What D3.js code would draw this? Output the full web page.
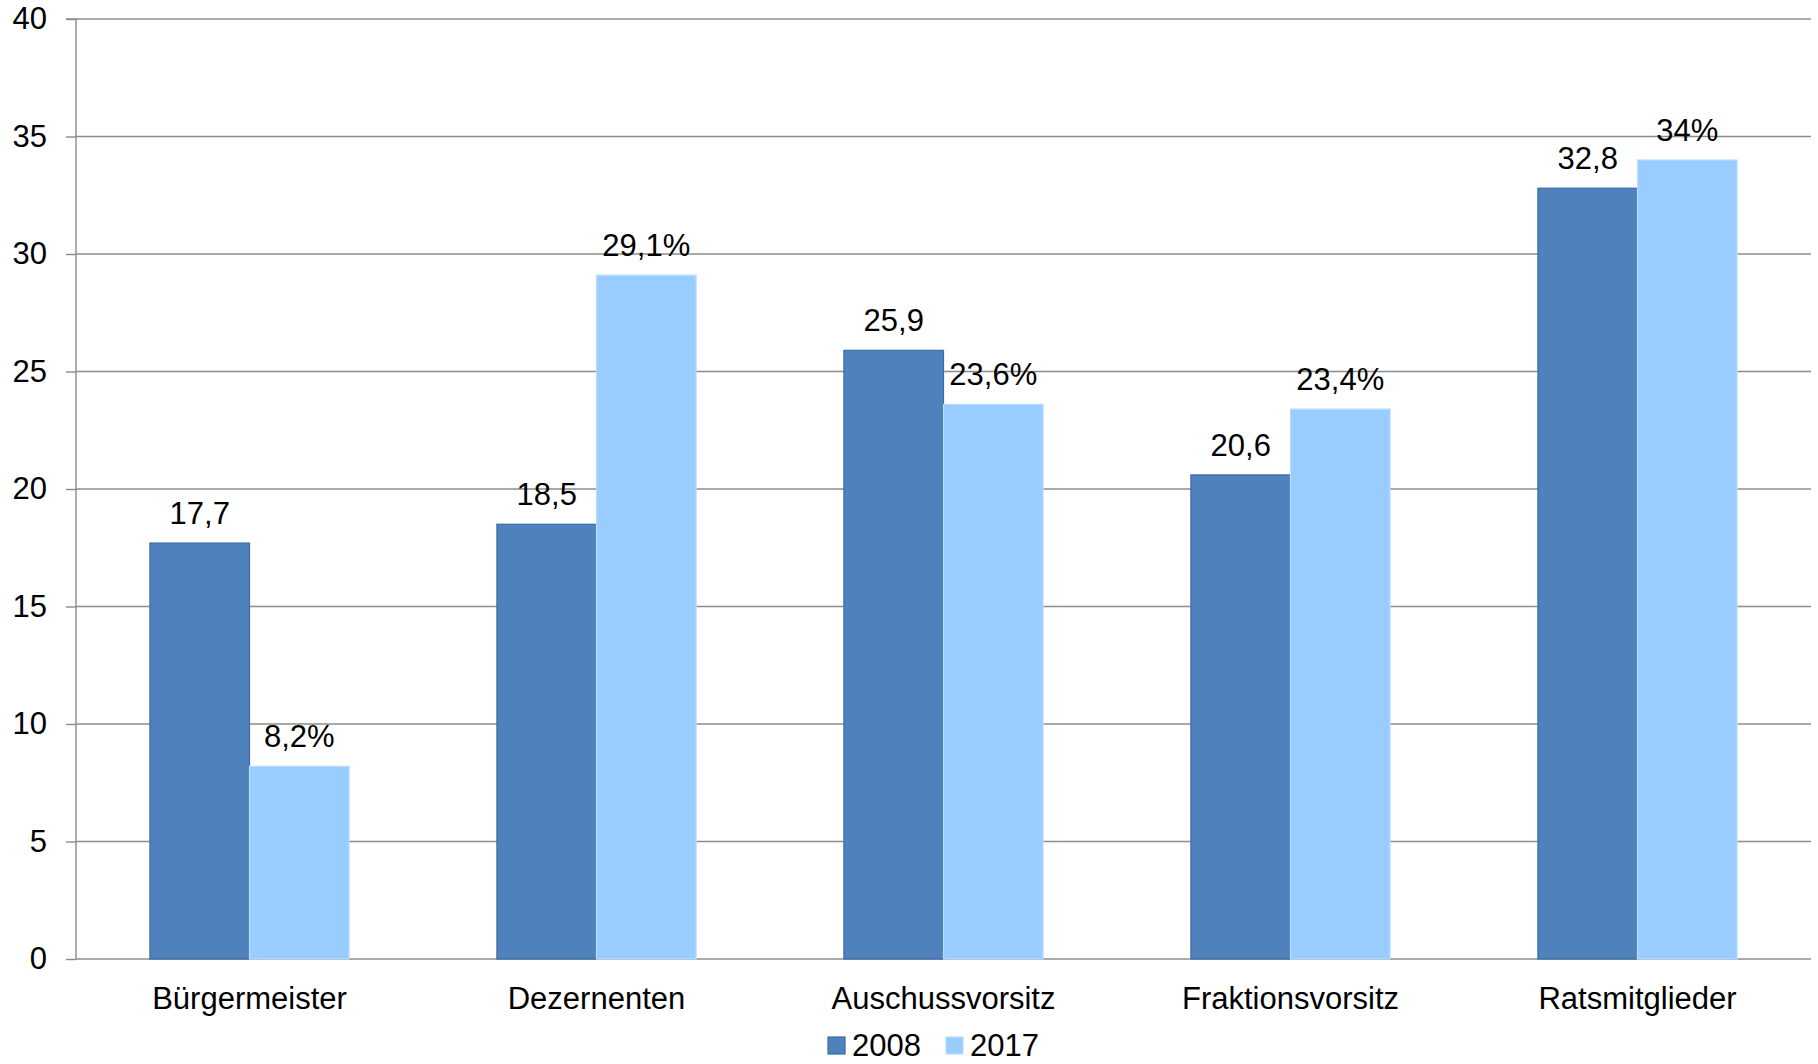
<!DOCTYPE html>
<html>
<head>
<meta charset="utf-8">
<script src="https://cdn.jsdelivr.net/npm/d3@7"></script>
<style>
  body { margin: 0; background: #fff; }
  text { font-family: "Liberation Sans", Arial, sans-serif; fill: #000; }
</style>
</head>
<body>
<script>
// Data
const categories = ['Bürgermeister', 'Dezernenten', 'Auschussvorsitz', 'Fraktionsvorsitz', 'Ratsmitglieder'];
const series = ['2008', '2017'];
const values2008 = [17.7, 18.5, 25.9, 20.6, 32.8];
const values2017 = [8.2, 29.1, 23.6, 23.4, 34];
const yTicks = [0, 5, 10, 15, 20, 25, 30, 35, 40];

// Dimensions
const width = 1818;
const height = 1064;
const margin = { top: 19, right: 7, bottom: 105, left: 76 };

const colors = { '2008': '#4F81BD', '2017': '#99CCFF' };
const strokes = { '2008': '#3A6CA5', '2017': '#B8DDFF' };

const locale = d3.formatLocale({ decimal: ',', thousands: '.', grouping: [3], currency: ['', '€'] });
const fmt = v => locale.format(Number.isInteger(v) ? '.0f' : '.1f')(v);

const svg = d3.select('body')
    .append('svg')
    .attr('width', width)
    .attr('height', height);

// Scales
const x = d3.scaleBand()
    .domain(categories)
    .range([margin.left, width - margin.right])
    .padding(0);

const barW = x.bandwidth() * 0.287;
const xInner = d3.scaleBand()
    .domain(series)
    .range([x.bandwidth() / 2 - barW, x.bandwidth() / 2 + barW])
    .padding(0);

const y = d3.scaleLinear()
    .domain([0, 40])
    .range([height - margin.bottom, margin.top]);

// Gridlines
svg.append('g')
    .selectAll('line')
    .data(yTicks)
    .enter()
    .append('line')
    .attr('x1', margin.left)
    .attr('x2', width - margin.right)
    .attr('y1', d => y(d))
    .attr('y2', d => y(d))
    .attr('stroke', '#8C8C8C')
    .attr('stroke-width', 1.4);

// Y axis
const yAxis = svg.append('g')
    .attr('transform', `translate(${margin.left},0)`)
    .call(d3.axisLeft(y).tickValues(yTicks).tickSize(10).tickPadding(19).tickFormat(d => d));
yAxis.selectAll('path, line').attr('stroke', '#8C8C8C').attr('stroke-width', 1.4);
yAxis.select('.domain').attr('d', `M-10,${y(40)}H0V${y(0)}`);
yAxis.selectAll('text').style('font-size', '31px').attr('fill', '#000');

// Bars
const rows = categories.map((c, i) => ({
    category: c,
    items: [
        { key: '2008', value: values2008[i] },
        { key: '2017', value: values2017[i] }
    ]
}));

const groups = svg.append('g')
    .selectAll('g')
    .data(rows)
    .enter()
    .append('g')
    .attr('transform', d => `translate(${x(d.category)},0)`);

groups.selectAll('rect')
    .data(d => d.items)
    .enter()
    .append('rect')
    .attr('x', d => xInner(d.key))
    .attr('y', d => y(d.value))
    .attr('width', xInner.bandwidth())
    .attr('height', d => y(0) - y(d.value))
    .attr('fill', d => colors[d.key])
    .attr('stroke', d => strokes[d.key])
    .attr('stroke-width', 1.2);

// Value labels
groups.selectAll('text')
    .data(d => d.items)
    .enter()
    .append('text')
    .attr('x', d => xInner(d.key) + xInner.bandwidth() / 2)
    .attr('y', d => y(d.value) - 19)
    .attr('text-anchor', 'middle')
    .style('font-size', '31px')
    .text(d => d.key === '2017' ? fmt(d.value) + '%' : fmt(d.value));

// Category labels
svg.append('g')
    .selectAll('text')
    .data(categories)
    .enter()
    .append('text')
    .attr('x', d => x(d) + x.bandwidth() / 2)
    .attr('y', 1009)
    .attr('text-anchor', 'middle')
    .style('font-size', '31px')
    .text(d => d);

// Legend
const legendX = [828, 946];
const legend = svg.append('g')
    .selectAll('g')
    .data(series)
    .enter()
    .append('g')
    .attr('transform', (d, i) => `translate(${legendX[i]},1037)`);

legend.append('rect')
    .attr('width', 17)
    .attr('height', 17)
    .attr('fill', d => colors[d])
    .attr('stroke', d => strokes[d])
    .attr('stroke-width', 1.2);

legend.append('text')
    .attr('x', 24)
    .attr('y', 19)
    .style('font-size', '31px')
    .text(d => d);
</script>
</body>
</html>
